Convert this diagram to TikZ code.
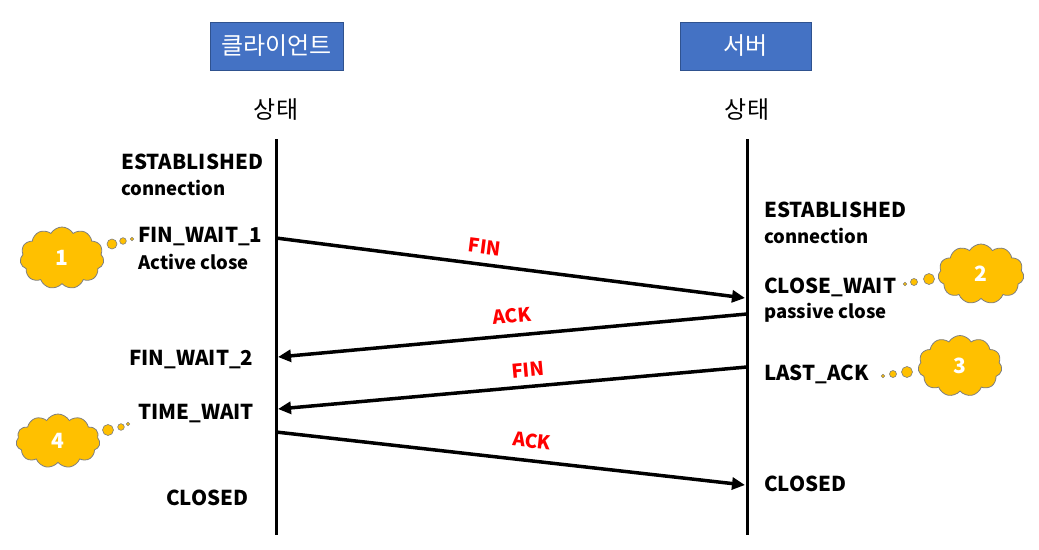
\documentclass[tikz,border=0pt]{standalone}
\usepackage{fontspec}
\setmainfont{Noto Sans CJK KR}
\usetikzlibrary{shapes.symbols,arrows.meta}
\definecolor{hdrblue}{HTML}{4472C4}
\definecolor{hdredge}{HTML}{2F528F}
\definecolor{cloudfill}{HTML}{FFC000}
\definecolor{cloudedge}{HTML}{7F7F7F}
\definecolor{msgred}{HTML}{FF0000}
\begin{document}
\begin{tikzpicture}[x=1pt,y=-1pt,
  hdr/.style={draw=hdredge,line width=1pt,fill=hdrblue,text=white,font=\fontsize{24}{26}\selectfont,inner sep=0pt},
  statehdr/.style={font=\fontsize{24}{26}\selectfont},
  lifeline/.style={line width=3pt,black},
  big/.style={anchor=west,font=\bfseries\fontsize{20.5}{23}\selectfont,inner sep=0pt},
  small/.style={anchor=west,font=\bfseries\fontsize{18.5}{20}\selectfont,inner sep=0pt},
  msg/.style={line width=3.5pt,-{Triangle[length=13pt,width=12pt]}},
  msglabel/.style={text=msgred,font=\bfseries\fontsize{19}{21}\selectfont,inner sep=0pt},
  cloudy/.style={cloud,cloud puffs=11,cloud puff arc=120,aspect=1.4,draw=cloudedge,line width=0.8pt,fill=cloudfill,text=white,font=\bfseries\fontsize{21}{23}\selectfont,inner sep=0pt},
  bub/.style={draw=cloudedge,line width=0.6pt,fill=cloudfill}
]
\useasboundingbox (0,0) rectangle (1039,549);
% headers
\node[hdr,minimum width=133pt,minimum height=48pt] (client) at (276.5,46) {클라이언트};
\node[hdr,minimum width=131pt,minimum height=48pt] (server) at (745.5,46) {서버};
\node[statehdr] (cstate) at (276,110) {상태};
\node[statehdr] (sstate) at (747,110) {상태};
% lifelines
\coordinate (ctop) at (276,139);
\coordinate (cbot) at (276,535);
\coordinate (stop) at (747,139);
\coordinate (sbot) at (747,535);
\draw[lifeline] (ctop) -- (cbot);
\draw[lifeline] (stop) -- (sbot);
% client states
\node[big] (cest) at (121,162) {ESTABLISHED};
\node[small] (ccon) at (121,188) {connection};
\node[big] (fw1) at (138,237) {FIN\_WAIT\_1};
\node[small] (act) at (138,262) {Active close};
\node[big] (fw2) at (129,360) {FIN\_WAIT\_2};
\node[big] (tw) at (138,414) {TIME\_WAIT};
\node[big] (cclosed) at (166,498) {CLOSED};
% server states
\node[big] (sest) at (764,210) {ESTABLISHED};
\node[small] (scon) at (764,236) {connection};
\node[big] (cw) at (764,287) {CLOSE\_WAIT};
\node[small] (pas) at (764,313) {passive close};
\node[big] (la) at (764,374) {LAST\_ACK};
\node[big] (sclosed) at (764,484) {CLOSED};
% message endpoints
\coordinate (m1s) at (276,238);
\coordinate (m1e) at (745,298);
\coordinate (m2s) at (747,314);
\coordinate (m2e) at (278,357);
\coordinate (m3s) at (747,367);
\coordinate (m3e) at (278,409);
\coordinate (m4s) at (276,432);
\coordinate (m4e) at (745,485);
\draw[msg] (m1s) -- (m1e);
\draw[msg] (m2s) -- (m2e);
\draw[msg] (m3s) -- (m3e);
\draw[msg] (m4s) -- (m4e);
\node[msglabel,rotate=-7.3] (l1) at (485,247) {FIN};
\node[msglabel,rotate=5.2] (l2) at (512,316) {ACK};
\node[msglabel,rotate=5.1] (l3) at (528,370) {FIN};
\node[msglabel,rotate=-6.4] (l4) at (532,441) {ACK};
% clouds
\node[cloudy,minimum width=84pt,minimum height=62pt] (k1) at (62,258) {1};
\node[cloudy,minimum width=86pt,minimum height=60pt] (k2) at (981,274) {2};
\node[cloudy,minimum width=84pt,minimum height=61pt] (k3) at (960,366) {3};
\node[cloudy,minimum width=84pt,minimum height=54pt] (k4) at (58,441) {4};
% thought bubbles
\draw[bub] (112,244) circle (5);
\draw[bub] (123,241) circle (3.3);
\draw[bub] (132,239) circle (1.8);
\draw[bub] (905,284) circle (1.8);
\draw[bub] (914,282) circle (3.5);
\draw[bub] (929,279) circle (5.5);
\draw[bub] (883,376) circle (1.8);
\draw[bub] (893,374) circle (3.5);
\draw[bub] (907,372) circle (5.5);
\draw[bub] (108,430) circle (5.5);
\draw[bub] (121,427) circle (3.3);
\draw[bub] (128,424) circle (1.8);
\end{tikzpicture}
\end{document}
